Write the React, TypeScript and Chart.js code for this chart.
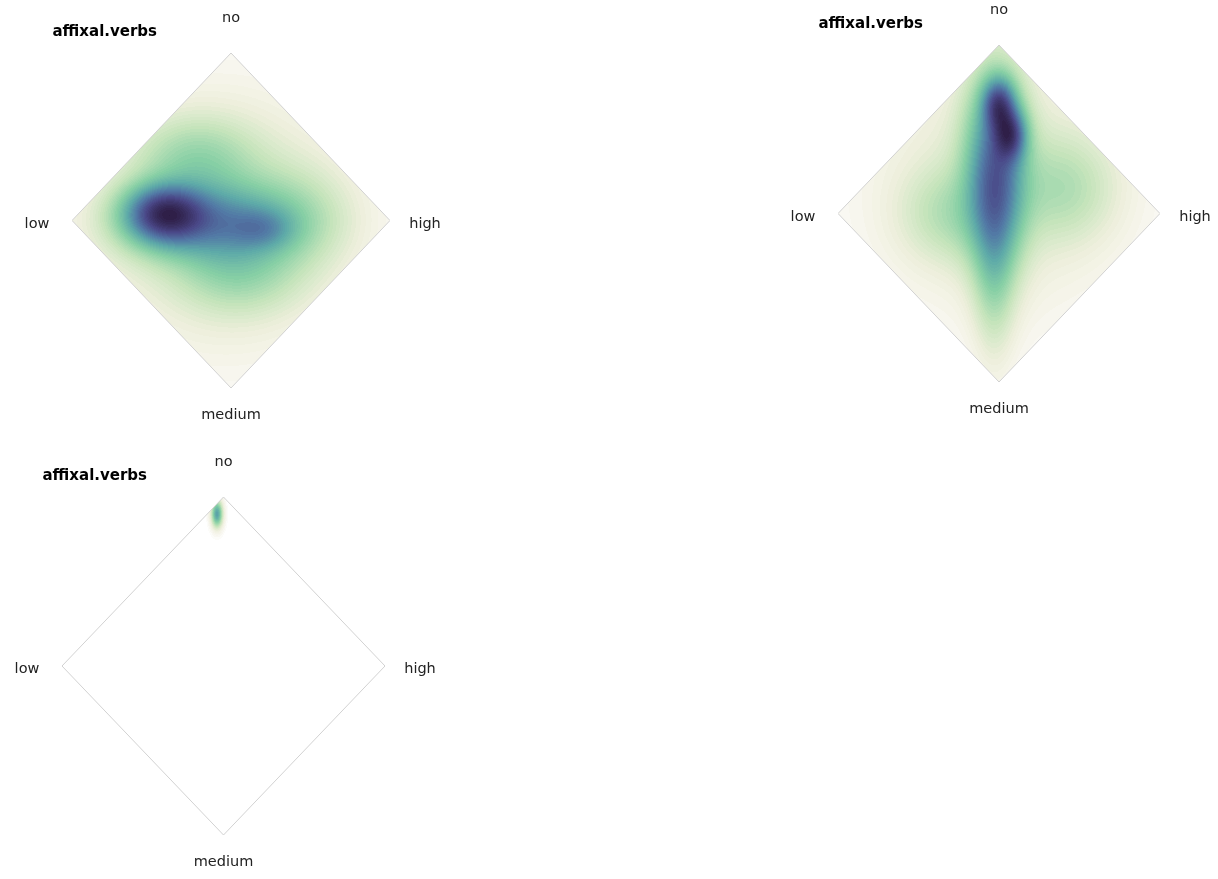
import { useEffect, useRef } from "react";
import { Chart, registerables } from "chart.js";

Chart.register(...registerables);

// Corner labels of each diamond: top, right, bottom, left
const cornerLabels = ["no", "high", "medium", "low"];
const panelTitles = ["affixal.verbs", "affixal.verbs", "affixal.verbs"];

// Diamond outline in data coordinates (x: low → high, y: medium → no)
const outlineX = [0, 1, 0, -1, 0];
const outlineY = [1, 0, -1, 0, 1];

// Density components per panel: centre (x, y), spread (sx, sy), weight
const p1X = [-0.42, -0.12, 0.2, -0.22, 0.05, -0.05, 0.4];
const p1Y = [0.04, -0.01, -0.05, 0.36, -0.3, 0.0, 0.02];
const p1SX = [0.16, 0.33, 0.13, 0.24, 0.24, 0.45, 0.22];
const p1SY = [0.11, 0.15, 0.08, 0.16, 0.16, 0.42, 0.2];
const p1W = [1.0, 0.6, 0.25, 0.22, 0.2, 0.14, 0.12];

const p2X = [0.0, 0.07, -0.02, -0.03, -0.28, 0.4, 0.0];
const p2Y = [0.65, 0.47, 0.25, -0.25, 0.0, 0.15, 0.2];
const p2SX = [0.065, 0.065, 0.12, 0.08, 0.2, 0.2, 0.45];
const p2SY = [0.1, 0.1, 0.35, 0.33, 0.18, 0.2, 0.45];
const p2W = [0.7, 0.7, 0.75, 0.22, 0.15, 0.15, 0.08];

const p3X = [-0.04];
const p3Y = [0.9];
const p3SX = [0.02];
const p3SY = [0.045];
const p3W = [1.0];

// Highest colour level reached in each panel
const peakLevels = [1, 1, 0.58];

// Sequential colour scale: empty → cream → green → teal → blue → dark purple
const stopPos = [0, 0.04, 0.12, 0.25, 0.4, 0.55, 0.68, 0.82, 1];
const stopCol = ["#ffffff", "#f8f7f0", "#eeefdc", "#c5e4bb", "#86cfa5", "#5eaaa8", "#527aa6", "#4a4888", "#2c1b42"];

const contourLevels = 60;
const levelGamma = 0.6;

type Comp = { x: number[]; y: number[]; sx: number[]; sy: number[]; w: number[] };
const panelComps: Comp[] = [
  { x: p1X, y: p1Y, sx: p1SX, sy: p1SY, w: p1W },
  { x: p2X, y: p2Y, sx: p2SX, sy: p2SY, w: p2W },
  { x: p3X, y: p3Y, sx: p3SX, sy: p3SY, w: p3W },
];

function hexToRgb(h: string) {
  const n = parseInt(h.slice(1), 16);
  return [(n >> 16) & 255, (n >> 8) & 255, n & 255];
}
const stopRgb = stopCol.map(hexToRgb);

function colourAt(t: number) {
  if (t <= 0) return stopRgb[0];
  if (t >= 1) return stopRgb[stopRgb.length - 1];
  let i = 0;
  while (i < stopPos.length - 2 && t > stopPos[i + 1]) i++;
  const f = (t - stopPos[i]) / (stopPos[i + 1] - stopPos[i]);
  const a = stopRgb[i];
  const b = stopRgb[i + 1];
  return [a[0] + (b[0] - a[0]) * f, a[1] + (b[1] - a[1]) * f, a[2] + (b[2] - a[2]) * f];
}

const densityPlugin = {
  id: "density",
  beforeDatasetsDraw(chart: any, _args: any, opts: any) {
    const { ctx, chartArea, scales } = chart;
    const comp: Comp = opts.components;
    const peak: number = opts.peak;
    const w = Math.round(chartArea.right - chartArea.left);
    const h = Math.round(chartArea.bottom - chartArea.top);
    const vals = new Float32Array(w * h);
    let maxD = 0;
    for (let j = 0; j < h; j++) {
      const y = scales.y.getValueForPixel(chartArea.top + j + 0.5);
      for (let i = 0; i < w; i++) {
        const x = scales.x.getValueForPixel(chartArea.left + i + 0.5);
        if (Math.abs(x) + Math.abs(y) > 1) {
          vals[j * w + i] = -1;
          continue;
        }
        let d = 0;
        for (let k = 0; k < comp.w.length; k++) {
          const dx = (x - comp.x[k]) / comp.sx[k];
          const dy = (y - comp.y[k]) / comp.sy[k];
          d += comp.w[k] * Math.exp(-0.5 * (dx * dx + dy * dy));
        }
        vals[j * w + i] = d;
        if (d > maxD) maxD = d;
      }
    }
    const off = document.createElement("canvas");
    off.width = w;
    off.height = h;
    const octx = off.getContext("2d")!;
    const img = octx.createImageData(w, h);
    for (let p = 0; p < w * h; p++) {
      const v = vals[p];
      if (v < 0) continue;
      let t = peak * Math.pow(v / maxD, levelGamma);
      t = Math.floor(t * contourLevels) / contourLevels;
      const c = colourAt(t);
      img.data[p * 4] = c[0];
      img.data[p * 4 + 1] = c[1];
      img.data[p * 4 + 2] = c[2];
      img.data[p * 4 + 3] = 255;
    }
    octx.putImageData(img, 0, 0);
    ctx.drawImage(off, chartArea.left, chartArea.top);
  },
  afterDraw(chart: any, _args: any, opts: any) {
    const { ctx, scales } = chart;
    const xs = scales.x;
    const ys = scales.y;
    const topX = xs.getPixelForValue(0);
    const topY = ys.getPixelForValue(1);
    const rightX = xs.getPixelForValue(1);
    const midY = ys.getPixelForValue(0);
    const botY = ys.getPixelForValue(-1);
    const leftX = xs.getPixelForValue(-1);
    ctx.save();
    ctx.fillStyle = "#222222";
    ctx.font = "14.5px 'DejaVu Sans'";
    ctx.textAlign = "center";
    ctx.textBaseline = "alphabetic";
    ctx.fillText(cornerLabels[0], topX, topY - 31.5);
    ctx.fillText(cornerLabels[1], rightX + 35, midY + 7);
    ctx.fillText(cornerLabels[2], topX, botY + 30.5);
    ctx.fillText(cornerLabels[3], leftX - 35, midY + 7);
    ctx.fillStyle = "#000000";
    ctx.font = "bold 15px 'DejaVu Sans'";
    ctx.textAlign = "left";
    ctx.fillText(opts.title, leftX - 19.5, topY - 17.5);
    ctx.restore();
  },
};

type PanelLayout = { left: number; top: number; width: number; height: number; pad: { left: number; top: number; right: number; bottom: number } };

const layouts: PanelLayout[] = [
  { left: 0, top: 0, width: 470, height: 440, pad: { left: 72, top: 53, right: 80, bottom: 52 } },
  { left: 760, top: 0, width: 458, height: 440, pad: { left: 78, top: 45, right: 58, bottom: 58 } },
  { left: 0, top: 440, width: 470, height: 439, pad: { left: 62, top: 57, right: 85, bottom: 44 } },
];

function DensityPanel({ index }: { index: number }) {
  const ref = useRef<HTMLCanvasElement | null>(null);
  const lay = layouts[index];
  useEffect(() => {
    if (!ref.current) return;
    const chart = new Chart(ref.current, {
      type: "scatter",
      data: {
        datasets: [
          {
            data: outlineX.map((x, i) => ({ x, y: outlineY[i] })),
            showLine: true,
            borderColor: "#d2d2d2",
            borderWidth: 1,
            pointRadius: 0,
            fill: false,
          },
        ],
      },
      options: {
        animation: false,
        responsive: false,
        maintainAspectRatio: false,
        events: [],
        layout: { padding: lay.pad },
        scales: {
          x: { type: "linear", min: -1, max: 1, display: false },
          y: { type: "linear", min: -1, max: 1, display: false },
        },
        plugins: {
          legend: { display: false },
          tooltip: { enabled: false },
          density: { components: panelComps[index], peak: peakLevels[index], title: panelTitles[index] },
        } as any,
      },
      plugins: [densityPlugin as any],
    });
    return () => chart.destroy();
  }, [index]);
  return (
    <canvas
      ref={ref}
      width={lay.width}
      height={lay.height}
      style={{ position: "absolute", left: lay.left, top: lay.top, width: lay.width, height: lay.height }}
    />
  );
}

export default function App() {
  return (
    <div style={{ position: "absolute", left: 0, top: 0, width: 1218, height: 879, background: "#ffffff", overflow: "hidden" }}>
      <DensityPanel index={0} />
      <DensityPanel index={1} />
      <DensityPanel index={2} />
    </div>
  );
}
